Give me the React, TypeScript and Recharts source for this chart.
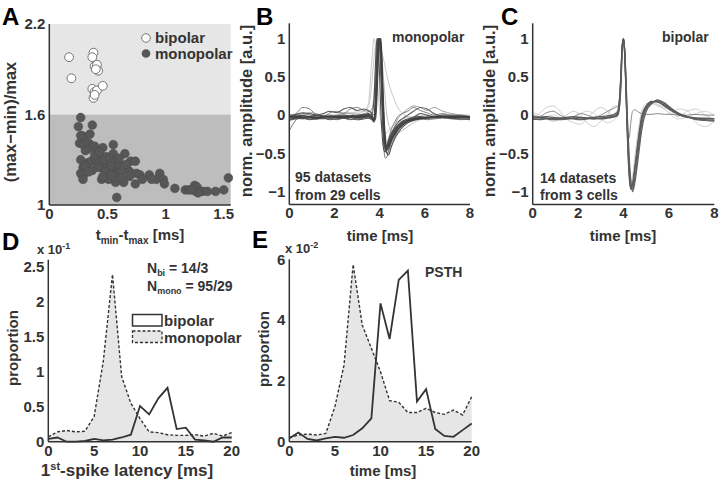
import React from 'react';
import {
  ScatterChart, Scatter, LineChart, Line, ComposedChart, Area, XAxis, YAxis, ReferenceArea,
} from 'recharts';

// ---------- Panel A data ----------
const BIPOLAR_PTS: [number, number][] = [
  [0.17, 1.98], [0.19, 1.84], [0.38, 2.01], [0.37, 1.98], [0.39, 1.92], [0.41, 1.93], [0.42, 1.89],
  [0.37, 1.77], [0.39, 1.75], [0.41, 1.76], [0.38, 1.71], [0.46, 1.79], [0.40, 1.90], [0.39, 1.73],
];
const MONOPOLAR_PTS: [number, number][] = [
  [0.27, 1.58], [0.25, 1.52], [0.37, 1.53], [0.28, 1.46], [0.29, 1.44], [0.26, 1.41], [0.29, 1.40],
  [0.30, 1.45], [0.34, 1.41], [0.37, 1.39], [0.39, 1.39], [0.33, 1.37], [0.41, 1.36], [0.46, 1.38],
  [0.55, 1.40], [0.44, 1.32], [0.49, 1.32], [0.55, 1.34], [0.27, 1.30], [0.33, 1.28], [0.36, 1.29],
  [0.41, 1.28], [0.46, 1.27], [0.50, 1.28], [0.54, 1.28], [0.29, 1.25], [0.37, 1.23], [0.44, 1.25],
  [0.49, 1.24], [0.52, 1.24], [0.56, 1.23], [0.27, 1.21], [0.29, 1.19], [0.28, 1.20], [0.29, 1.17],
  [0.45, 1.17], [0.51, 1.17], [0.49, 1.21], [0.55, 1.20], [0.57, 1.15], [0.64, 1.15], [0.58, 1.05],
  [0.65, 1.34], [0.70, 1.29], [0.74, 1.29], [0.68, 1.23], [0.71, 1.21], [0.75, 1.21], [0.69, 1.19],
  [0.78, 1.20], [0.74, 1.14], [0.86, 1.20], [0.95, 1.21], [0.92, 1.17], [0.98, 1.17], [0.99, 1.14],
  [1.08, 1.11], [1.17, 1.10], [1.20, 1.10], [1.25, 1.13], [1.27, 1.12], [1.26, 1.09], [1.29, 1.09],
  [1.32, 1.09], [1.36, 1.09], [1.43, 1.09], [1.50, 1.10], [1.54, 1.18], [1.28, 1.08], [1.22, 1.10],
  [0.47, 1.30], [0.52, 1.31], [0.56, 1.29], [0.58, 1.26], [0.53, 1.26], [0.48, 1.22], [0.42, 1.25],
  [0.40, 1.30], [0.31, 1.26], [0.34, 1.22], [0.60, 1.27], [0.62, 1.22], [0.57, 1.18], [0.53, 1.20],
  [0.46, 1.19], [0.39, 1.33], [0.31, 1.36], [0.60, 1.31], [0.66, 1.27], [0.80, 1.17], [0.88, 1.17],
  [0.27, 1.46], [0.35, 1.47], [0.43, 1.35], [0.62, 1.18],
];

// ---------- Panels B / C data (waveforms) ----------
const T = [0, 0.3, 0.6, 0.9, 1.2, 1.5, 1.8, 2.1, 2.4, 2.7, 3.0, 3.3, 3.5, 3.65, 3.75, 3.82, 3.88, 3.94,
  4.0, 4.06, 4.12, 4.18, 4.25, 4.32, 4.4, 4.5, 4.65, 4.8, 5.0, 5.25, 5.5, 5.8, 6.1, 6.4, 6.8, 7.2, 7.6, 8.0];

const B1 = [-0.03,-0.02,-0.03,-0.02,-0.03,-0.02,-0.02,-0.03,-0.02,-0.01,-0.02,-0.01,0.0,-0.02,-0.06,0.1,0.55,0.95,1.0,0.85,0.35,-0.1,-0.38,-0.42,-0.38,-0.3,-0.22,-0.16,-0.11,-0.07,-0.05,-0.04,-0.03,-0.03,-0.02,-0.02,-0.03,-0.03];
const B2 = [-0.05,-0.04,-0.03,-0.05,-0.04,-0.03,-0.04,-0.02,-0.03,-0.02,-0.01,0.0,0.02,0.0,0.2,0.7,1.0,0.9,0.5,0.0,-0.3,-0.45,-0.48,-0.42,-0.35,-0.27,-0.2,-0.14,-0.09,-0.06,-0.04,-0.03,-0.04,-0.03,-0.03,-0.04,-0.03,-0.04];
const B3 = [-0.02,0.0,-0.01,-0.02,0.0,-0.01,-0.02,-0.01,0.0,-0.01,0.0,0.01,0.01,0.0,-0.08,-0.05,0.2,0.7,0.98,1.0,0.6,0.1,-0.3,-0.5,-0.52,-0.43,-0.32,-0.24,-0.16,-0.1,-0.07,-0.05,-0.04,-0.02,-0.02,-0.03,-0.02,-0.02];
const B4 = [-0.2,-0.06,0.02,0.0,-0.04,-0.05,-0.03,-0.06,-0.04,-0.03,-0.05,-0.04,-0.03,-0.05,-0.1,0.3,0.85,1.0,0.9,0.5,0.0,-0.4,-0.56,-0.55,-0.45,-0.35,-0.26,-0.18,-0.12,-0.08,-0.06,-0.05,-0.06,-0.05,-0.04,-0.05,-0.06,-0.05];
const B5 = [-0.04,0.02,0.1,0.08,0.0,-0.02,0.03,0.05,0.02,0.08,0.1,0.06,0.05,0.03,0.0,0.3,0.8,1.0,0.95,0.6,0.15,-0.2,-0.35,-0.38,-0.3,-0.2,-0.1,-0.02,0.02,0.05,0.1,0.06,0.03,0.0,0.02,-0.01,0.0,-0.02];
const B6 = [-0.02,-0.01,0.0,-0.02,-0.01,0.0,-0.01,0.0,0.01,0.02,0.02,0.05,0.1,0.4,0.75,0.92,0.98,1.0,0.95,0.88,0.8,0.72,0.62,0.52,0.42,0.32,0.2,0.1,0.03,-0.02,-0.03,-0.02,-0.01,0.0,-0.01,-0.01,0.0,-0.01];
const B7 = [-0.01,0.0,0.02,0.01,-0.01,0.0,0.01,0.0,0.02,0.03,0.04,0.05,0.15,0.7,1.0,0.9,0.6,0.3,0.05,-0.1,-0.18,-0.22,-0.24,-0.23,-0.2,-0.16,-0.12,-0.08,-0.05,-0.03,-0.02,0.0,-0.01,0.0,0.0,-0.01,0.0,0.0];
const B8 = [-0.04,-0.03,-0.04,-0.03,-0.02,-0.03,-0.02,-0.03,-0.02,-0.01,-0.02,-0.03,-0.02,0.05,0.3,0.6,0.85,1.0,0.98,0.9,0.7,0.45,0.2,0.0,-0.12,-0.2,-0.25,-0.24,-0.2,-0.15,-0.1,-0.06,-0.04,-0.03,-0.03,-0.02,-0.03,-0.03];
const B9 = [-0.06,-0.05,-0.04,-0.06,-0.05,-0.04,-0.06,-0.05,-0.04,-0.05,-0.06,-0.05,-0.04,-0.06,-0.08,0.15,0.7,0.98,1.0,0.7,0.2,-0.25,-0.4,-0.4,-0.33,-0.25,-0.17,-0.1,-0.05,0.0,0.05,0.1,0.08,0.02,-0.02,-0.04,-0.05,-0.06];
const B10 = [0.0,0.01,0.03,0.02,0.0,0.02,0.05,0.03,0.08,0.1,0.06,0.08,0.06,0.02,-0.05,0.25,0.8,1.0,0.97,0.65,0.1,-0.3,-0.45,-0.46,-0.4,-0.32,-0.24,-0.16,-0.1,-0.06,-0.03,0.02,0.0,-0.02,0.0,0.0,-0.01,-0.02];
const B11 = [-0.02,-0.03,-0.01,-0.02,-0.04,-0.02,-0.01,-0.02,-0.03,-0.02,-0.03,-0.02,-0.01,-0.03,-0.07,0.05,0.45,0.9,1.0,0.9,0.45,-0.05,-0.35,-0.45,-0.42,-0.34,-0.26,-0.19,-0.13,-0.08,-0.06,-0.04,-0.03,-0.02,-0.02,-0.03,-0.02,-0.02];
const B12 = [-0.08,-0.04,0.0,0.03,0.02,-0.02,-0.04,0.0,0.03,0.02,-0.01,0.02,0.04,0.08,0.2,0.5,0.85,1.0,0.92,0.7,0.35,0.0,-0.25,-0.35,-0.32,-0.25,-0.15,-0.05,0.02,0.08,0.12,0.1,0.06,0.1,0.05,0.02,0.0,-0.03];
const B13 = [-0.03,-0.04,-0.05,-0.03,-0.02,-0.04,-0.05,-0.03,-0.04,-0.06,-0.03,-0.02,-0.04,-0.03,-0.06,0.12,0.6,0.96,1.0,0.8,0.3,-0.2,-0.42,-0.5,-0.47,-0.38,-0.29,-0.21,-0.14,-0.09,-0.06,-0.05,-0.04,-0.04,-0.03,-0.04,-0.04,-0.03];
const B14 = [-0.01,-0.02,-0.04,-0.03,-0.05,-0.03,-0.02,-0.04,-0.02,-0.03,-0.04,-0.03,-0.02,-0.04,-0.05,0.2,0.75,1.0,0.96,0.55,0.05,-0.33,-0.44,-0.4,-0.33,-0.26,-0.19,-0.13,-0.08,-0.05,-0.03,-0.02,-0.03,-0.02,-0.03,-0.02,-0.03,-0.04];

const C1 = [-0.04,-0.03,-0.04,-0.05,-0.04,-0.05,-0.04,-0.03,-0.04,-0.05,-0.04,-0.03,-0.02,-0.01,0.02,0.15,0.45,0.88,1.0,0.78,0.25,-0.3,-0.75,-0.96,-0.92,-0.72,-0.38,-0.06,0.1,0.17,0.18,0.13,0.07,0.02,-0.02,-0.04,-0.05,-0.05];
const C2 = [-0.05,-0.06,-0.05,-0.06,-0.05,-0.04,-0.05,-0.06,-0.05,-0.04,-0.05,-0.04,-0.03,-0.02,0.0,0.1,0.35,0.8,0.98,0.82,0.4,-0.1,-0.55,-0.85,-1.0,-0.88,-0.55,-0.2,0.05,0.15,0.2,0.16,0.09,0.03,-0.02,-0.06,-0.07,-0.08];
const C3 = [-0.02,-0.03,-0.02,-0.03,-0.04,-0.03,-0.02,-0.03,-0.04,-0.03,-0.02,-0.01,0.0,0.02,0.05,0.2,0.5,0.9,1.0,0.75,0.2,-0.35,-0.8,-0.97,-0.9,-0.68,-0.32,-0.02,0.12,0.18,0.17,0.12,0.06,0.01,-0.03,-0.04,-0.04,-0.05];
const C4 = [-0.06,-0.05,-0.04,-0.05,-0.06,-0.05,-0.04,-0.05,-0.04,-0.05,-0.04,-0.03,-0.02,0.0,0.03,0.12,0.4,0.85,1.0,0.8,0.3,-0.2,-0.65,-0.9,-0.97,-0.82,-0.48,-0.12,0.08,0.16,0.19,0.15,0.08,0.02,-0.02,-0.05,-0.06,-0.07];
const C5 = [0.0,-0.02,0.03,0.05,0.0,-0.03,-0.02,0.02,0.0,-0.03,0.0,0.05,0.08,0.1,0.12,0.2,0.5,0.9,1.0,0.7,0.2,-0.2,-0.3,-0.1,0.05,0.07,0.04,0.02,0.01,0.01,0.02,0.01,0.01,0.0,0.0,0.01,0.0,0.0];
const C6 = [-0.05,0.02,0.1,0.12,0.05,-0.05,-0.1,-0.12,-0.05,0.05,0.1,0.05,0.0,0.03,0.08,0.2,0.45,0.85,1.0,0.8,0.35,-0.2,-0.65,-0.9,-0.85,-0.6,-0.3,-0.05,0.1,0.15,0.12,0.08,0.02,0.08,0.06,-0.1,-0.15,-0.08];
const C7 = [0.03,0.0,-0.05,-0.08,-0.05,0.0,0.05,0.0,-0.1,-0.15,-0.08,0.0,0.1,0.12,0.1,0.2,0.5,0.88,1.0,0.75,0.25,-0.3,-0.7,-0.88,-0.8,-0.55,-0.2,0.05,0.15,0.17,0.14,0.1,0.05,-0.02,0.05,0.08,0.0,-0.05];
const C8 = [-0.03,-0.05,-0.02,0.0,-0.03,-0.06,-0.04,0.02,0.05,0.02,-0.05,-0.1,-0.08,-0.05,0.0,0.1,0.4,0.85,1.0,0.8,0.3,-0.25,-0.72,-0.92,-0.88,-0.65,-0.3,0.0,0.12,0.15,0.13,0.08,0.0,-0.05,-0.03,0.02,0.05,0.0];

// ---------- Panels D / E data ----------
const BINS = [0,1,2,3,4,5,6,7,8,9,10,11,12,13,14,15,16,17,18,19,20];
const D_MONO = [0.07,0.14,0.16,0.14,0.15,0.36,1.15,2.39,0.93,0.55,0.33,0.14,0.13,0.1,0.09,0.09,0.1,0.08,0.12,0.08,0.13];
const D_BI = [0.04,0.06,0.0,0.0,0.01,0.04,0.02,0.03,0.06,0.1,0.51,0.39,0.62,0.77,0.18,0.2,0.03,0.02,0.0,0.06,0.06];
const E_MONO = [0.13,0.22,0.25,0.22,0.27,1.15,2.52,5.83,3.84,3.07,2.3,1.35,1.3,0.96,0.96,1.1,0.96,0.9,1.04,0.88,1.48];
const E_BI = [0.11,0.3,0.09,0.04,0.11,0.16,0.13,0.22,0.44,0.77,4.55,3.38,5.32,5.63,1.32,1.73,0.42,0.19,0.16,0.38,0.6];

const A_XTICKS = [0, 0.5, 1, 1.5];
const A_YTICKS = [1, 1.6, 2.2];
const W_XTICKS = [0, 2, 4, 6, 8];
const W_YTICKS = [-1, -0.5, 0, 0.5, 1];
const D_YTICKS = [0, 0.5, 1, 1.5, 2, 2.5];
const E_YTICKS = [0, 2, 4, 6];
const H_XTICKS = [0, 5, 10, 15, 20];

// ---------- tables ----------
const bipolarData = BIPOLAR_PTS.map(([x, y]) => ({ x, y }));
const monopolarData = MONOPOLAR_PTS.map(([x, y]) => ({ x, y }));
const bTraces = [B1, B2, B3, B4, B5, B6, B7, B8, B9, B10, B11, B12, B13, B14];
const cTraces = [C1, C2, C3, C4, C5, C6, C7, C8];
const bData = T.map((t, i) => {
  const r: any = { t };
  bTraces.forEach((tr, k) => { r['b' + (k + 1)] = tr[i]; });
  return r;
});
const cData = T.map((t, i) => {
  const r: any = { t };
  cTraces.forEach((tr, k) => { r['c' + (k + 1)] = tr[i]; });
  return r;
});
const dData = BINS.map((x, i) => ({ x, mono: D_MONO[i], bi: D_BI[i] }));
const eData = BINS.map((x, i) => ({ x, mono: E_MONO[i], bi: E_BI[i] }));

const FONT = '"Liberation Sans", Arial, Helvetica, sans-serif';
const INK = '#333';
const tickStyle = { fontSize: 15, fontWeight: 700, fill: INK, fontFamily: FONT };
const axisLine = { stroke: INK, strokeWidth: 1.5 };
const minus = (v: number) => (v < 0 ? '\u2212' + Math.abs(v) : String(v));

const bStyle: Record<string, { c: string; w: number }> = {
  b6: { c: '#c8c8c8', w: 1 }, b7: { c: '#c8c8c8', w: 1 }, b8: { c: '#c0c0c0', w: 1 }, b12: { c: '#a0a0a0', w: 1 },
  b4: { c: '#7a7a7a', w: 1 }, b5: { c: '#808080', w: 1 }, b13: { c: '#6a6a6a', w: 1 },
  b1: { c: '#454545', w: 1.2 }, b2: { c: '#4e4e4e', w: 1.1 }, b3: { c: '#4e4e4e', w: 1.1 },
  b9: { c: '#5a5a5a', w: 1.1 }, b10: { c: '#555', w: 1.1 }, b11: { c: '#3e3e3e', w: 1.4 }, b14: { c: '#505050', w: 1.1 },
};
const bOrder = ['b6', 'b7', 'b8', 'b12', 'b4', 'b5', 'b13', 'b9', 'b10', 'b14', 'b2', 'b3', 'b1', 'b11'];
const cStyle: Record<string, { c: string; w: number }> = {
  c6: { c: '#d0d0d0', w: 1 }, c7: { c: '#cdcdcd', w: 1 }, c8: { c: '#d6d6d6', w: 1 },
  c5: { c: '#8a8a8a', w: 1 },
  c1: { c: '#5a5a5a', w: 1.3 }, c2: { c: '#606060', w: 1.3 }, c3: { c: '#5a5a5a', w: 1.3 }, c4: { c: '#666', w: 1.3 },
};
const cOrder = ['c6', 'c7', 'c8', 'c5', 'c4', 'c2', 'c3', 'c1'];

const full: React.CSSProperties = { position: 'absolute', left: 0, top: 0 };

const MonoDot = (p: any) => <circle cx={p.cx} cy={p.cy} r={4.4} fill="#575757" stroke="#4a4a4a" strokeWidth={0.5} />;
const BiDot = (p: any) => <circle cx={p.cx} cy={p.cy} r={4.4} fill="#fff" stroke="#666" strokeWidth={0.9} />;

export default function App() {
  return (
    <div style={{ position: 'absolute', left: 0, top: 0, width: 720, height: 484, background: '#fff', fontFamily: FONT }}>
      {/* Panel A */}
      <div style={full}>
        <ScatterChart width={720} height={484} margin={{ left: 9.3, top: 24, right: 489.3, bottom: 259 }}>
          <XAxis type="number" dataKey="x" domain={[0, 1.56]} ticks={A_XTICKS} tick={tickStyle} tickLine={false}
            tickSize={2} tickMargin={1} axisLine={axisLine} height={20} />
          <YAxis type="number" dataKey="y" domain={[1, 2.2]} ticks={A_YTICKS} tick={tickStyle} tickLine={false}
            tickSize={2} tickMargin={2} axisLine={axisLine} width={40} />
          <ReferenceArea x1={0} x2={1.56} y1={1.6} y2={2.2} fill="#e6e6e6" fillOpacity={1} stroke="none" />
          <ReferenceArea x1={0} x2={1.56} y1={1} y2={1.6} fill="#bdbdbd" fillOpacity={1} stroke="none" />
          <Scatter data={monopolarData} shape={MonoDot} isAnimationActive={false} />
          <Scatter data={bipolarData} shape={BiDot} isAnimationActive={false} />
        </ScatterChart>
      </div>

      {/* Panel B */}
      <div style={full}>
        <LineChart width={720} height={484} data={bData} margin={{ left: 249.3, top: 23.3, right: 250, bottom: 259.4 }}>
          <XAxis type="number" dataKey="t" domain={[0, 8]} ticks={W_XTICKS} tick={tickStyle} tickLine={false}
            tickSize={2} tickMargin={1} axisLine={axisLine} height={20} />
          <YAxis type="number" domain={[-1.17, 1.2]} ticks={W_YTICKS} tick={tickStyle} tickLine={false}
            tickSize={2} tickMargin={2} axisLine={axisLine} width={40} tickFormatter={minus} />
          {bOrder.map((k) => (
            <Line key={k} dataKey={k} type="monotone" stroke={bStyle[k].c} strokeWidth={bStyle[k].w} dot={false} isAnimationActive={false} />
          ))}
        </LineChart>
      </div>

      {/* Panel C */}
      <div style={full}>
        <LineChart width={720} height={484} data={cData} margin={{ left: 492.7, top: 23.3, right: 5.7, bottom: 259.4 }}>
          <XAxis type="number" dataKey="t" domain={[0, 8]} ticks={W_XTICKS} tick={tickStyle} tickLine={false}
            tickSize={2} tickMargin={1} axisLine={axisLine} height={20} />
          <YAxis type="number" domain={[-1.17, 1.2]} ticks={W_YTICKS} tick={tickStyle} tickLine={false}
            tickSize={2} tickMargin={2} axisLine={axisLine} width={40} tickFormatter={minus} />
          {cOrder.map((k) => (
            <Line key={k} dataKey={k} type="monotone" stroke={cStyle[k].c} strokeWidth={cStyle[k].w} dot={false} isAnimationActive={false} />
          ))}
        </LineChart>
      </div>

      {/* Panel D */}
      <div style={full}>
        <ComposedChart width={720} height={484} data={dData} margin={{ left: 8.3, top: 259.7, right: 488.3, bottom: 22.3 }}>
          <XAxis type="number" dataKey="x" domain={[0, 20]} ticks={H_XTICKS} tick={tickStyle} tickLine={false}
            tickSize={3} tickMargin={1} axisLine={axisLine} height={20} />
          <YAxis type="number" domain={[0, 2.6]} ticks={D_YTICKS} tick={tickStyle} tickLine={false}
            tickSize={2} tickMargin={2} axisLine={axisLine} width={40} />
          <Area dataKey="mono" type="linear" stroke={INK} strokeWidth={1.4} strokeDasharray="3 2" fill="#e6e6e6" fillOpacity={1} dot={false} isAnimationActive={false} />
          <Line dataKey="bi" type="linear" stroke={INK} strokeWidth={1.8} dot={false} isAnimationActive={false} />
        </ComposedChart>
      </div>

      {/* Panel E */}
      <div style={full}>
        <ComposedChart width={720} height={484} data={eData} margin={{ left: 249.3, top: 259.3, right: 248.3, bottom: 22.3 }}>
          <XAxis type="number" dataKey="x" domain={[0, 20]} ticks={H_XTICKS} tick={tickStyle} tickLine={false}
            tickSize={3} tickMargin={1} axisLine={axisLine} height={20} />
          <YAxis type="number" domain={[0, 6]} ticks={E_YTICKS} tick={tickStyle} tickLine={false}
            tickSize={2} tickMargin={2} axisLine={axisLine} width={40} />
          <Area dataKey="mono" type="linear" stroke={INK} strokeWidth={1.4} strokeDasharray="3 2" fill="#e6e6e6" fillOpacity={1} dot={false} isAnimationActive={false} />
          <Line dataKey="bi" type="linear" stroke={INK} strokeWidth={1.8} dot={false} isAnimationActive={false} />
        </ComposedChart>
      </div>

      {/* Text overlay */}
      <svg width={720} height={484} style={{ ...full, pointerEvents: 'none' }} fontFamily={FONT} fontWeight={700}>
        {/* panel letters */}
        <g fill="#000" fontSize={24}>
          <text x={2} y={25}>A</text>
          <text x={256} y={25}>B</text>
          <text x={501} y={25}>C</text>
          <text x={2} y={250}>D</text>
          <text x={252} y={248}>E</text>
        </g>
        <g fill={INK} fontSize={15}>
          {/* A */}
          <text transform="translate(16,122) rotate(-90)" textAnchor="middle" fontSize={16.5}>(max−min)/max</text>
          <text x={140} y={240} textAnchor="middle">t<tspan fontSize={10} dy={4}>min</tspan><tspan dy={-4}>-t</tspan><tspan fontSize={10} dy={4}>max</tspan><tspan dy={-4}> [ms]</tspan></text>
          <circle cx={146} cy={38} r={4.3} fill="#fff" stroke="#666" strokeWidth={0.9} />
          <text x={155} y={43}>bipolar</text>
          <circle cx={146} cy={53.5} r={4.3} fill="#575757" />
          <text x={155} y={59}>monopolar</text>

          {/* B */}
          <text transform="translate(252,111) rotate(-90)" textAnchor="middle" fontSize={16.5}>norm. amplitude [a.u.]</text>
          <text x={380} y={241} textAnchor="middle">time [ms]</text>
          <text x={392} y={42} fontSize={14}>monopolar</text>
          <text x={295} y={182} fontSize={14}>95 datasets</text>
          <text x={295} y={200} fontSize={14}>from 29 cells</text>

          {/* C */}
          <text transform="translate(495,111) rotate(-90)" textAnchor="middle" fontSize={16.5}>norm. amplitude [a.u.]</text>
          <text x={623} y={241} textAnchor="middle">time [ms]</text>
          <text x={662} y={42} fontSize={14}>bipolar</text>
          <text x={540} y={183} fontSize={14}>14 datasets</text>
          <text x={540} y={200} fontSize={14}>from 3 cells</text>

          {/* D */}
          <text transform="translate(18,348) rotate(-90)" textAnchor="middle">proportion</text>
          <text x={127} y={476} textAnchor="middle" fontSize={17}>1<tspan fontSize={11} dy={-6}>st</tspan><tspan dy={6}>-spike latency [ms]</tspan></text>
          <text x={37} y={254} fontSize={13}>x 10<tspan fontSize={9} dy={-5}>-1</tspan></text>
          <text x={147} y={273} fontSize={14}>N<tspan fontSize={9} dy={3}>bi</tspan><tspan dy={-3}> = 14/3</tspan></text>
          <text x={147} y={291} fontSize={14}>N<tspan fontSize={9} dy={3}>mono</tspan><tspan dy={-3}> = 95/29</tspan></text>
          <rect x={132.5} y={314.5} width={29.5} height={11.5} fill="#fff" stroke={INK} strokeWidth={1.5} />
          <text x={164} y={326}>bipolar</text>
          <rect x={132.5} y={331} width={29.5} height={11.5} fill="#e6e6e6" stroke={INK} strokeWidth={1.3} strokeDasharray="3 2" />
          <text x={164} y={342.5}>monopolar</text>

          {/* E */}
          <text transform="translate(269,349) rotate(-90)" textAnchor="middle">proportion</text>
          <text x={383} y={476} textAnchor="middle">time [ms]</text>
          <text x={285} y={253} fontSize={13}>x 10<tspan fontSize={9} dy={-5}>-2</tspan></text>
          <text x={425} y={277} fontSize={14}>PSTH</text>
        </g>
      </svg>
    </div>
  );
}
